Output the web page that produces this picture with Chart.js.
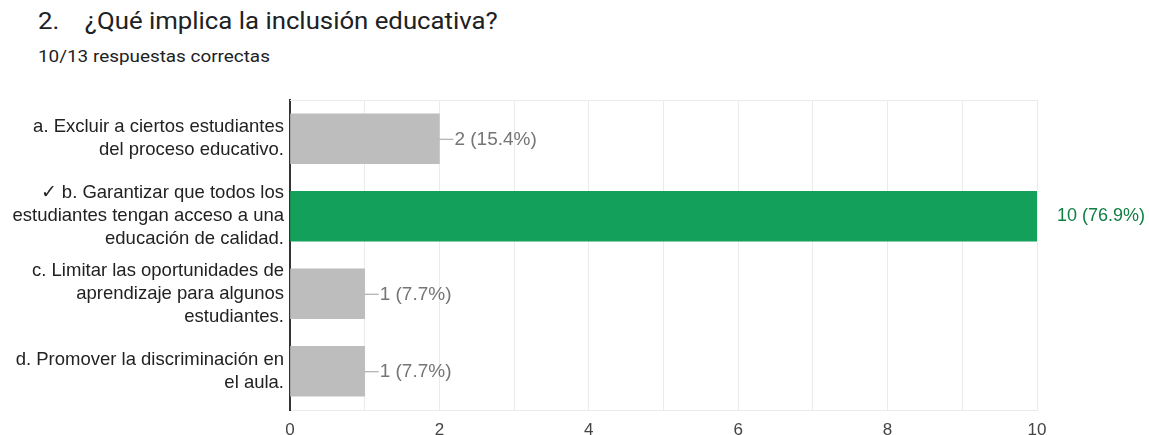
<!DOCTYPE html>
<html>
<head>
<meta charset="utf-8">
<script src="https://cdn.jsdelivr.net/npm/chart.js@4"></script>
<style>
  html, body { margin: 0; padding: 0; background: #fff; overflow: hidden; }
  body { width: 1149px; height: 435px; position: relative; font-family: Roboto, Arial, sans-serif; }
  #title { position: absolute; left: 38px; top: 8px; font-size: 23px; color: #202124; white-space: pre;
           transform: scaleX(1.12); transform-origin: left top; }
  #subtitle { position: absolute; left: 38px; top: 47px; font-size: 16px; color: #202124;
              transform: scaleX(1.18); transform-origin: left top; }
  #wrap { position: absolute; left: 0; top: 0; width: 1149px; height: 455px; }
</style>
</head>
<body>
<div id="title">2.    ¿Qué implica la inclusión educativa?</div>
<div id="subtitle">10/13 respuestas correctas</div>
<div id="wrap"><canvas id="chart"></canvas></div>
<script>
// answer options (already wrapped the way the form shows them)
const categories = [
    ['a. Excluir a ciertos estudiantes', 'del proceso educativo.'],
    ['✓ b. Garantizar que todos los', 'estudiantes tengan acceso a una', 'educación de calidad.'],
    ['c. Limitar las oportunidades de', 'aprendizaje para algunos', 'estudiantes.'],
    ['d. Promover la discriminación en', 'el aula.']
];
const responses = [2, 10, 1, 1];
const totalResponses = 13;
const correctOption = 1;
const xTicks = [0, 2, 4, 6, 8, 10];

const GREY = '#bdbdbd';
const GREEN = '#13a05a';
const LABEL_FONT = '"Liberation Sans", Arial, sans-serif';

// value labels at the end of each bar
const valueLabels = {
    id: 'valueLabels',
    afterDatasetsDraw(chart) {
        const ctx = chart.ctx;
        const meta = chart.getDatasetMeta(0);
        const area = chart.chartArea;
        ctx.save();
        ctx.textBaseline = 'middle';
        meta.data.forEach((bar, i) => {
            const pct = (responses[i] / totalResponses * 100).toFixed(1);
            const txt = responses[i] + ' (' + pct + '%)';
            if (i === correctOption) {
                ctx.font = '18px ' + LABEL_FONT;
                ctx.fillStyle = '#0f8043';
                ctx.fillText(txt, area.right + 20, bar.y);
            } else {
                ctx.font = '19px ' + LABEL_FONT;
                ctx.strokeStyle = '#9e9e9e';
                ctx.lineWidth = 1;
                ctx.beginPath();
                ctx.moveTo(bar.x, bar.y + 0.5);
                ctx.lineTo(bar.x + 14, bar.y + 0.5);
                ctx.stroke();
                ctx.fillStyle = '#757575';
                ctx.fillText(txt, bar.x + 15, bar.y + 1);
            }
        });
        ctx.restore();
    }
};

// light frame line across the top of the plot
const topLine = {
    id: 'topLine',
    beforeDatasetsDraw(chart) {
        const ctx = chart.ctx;
        const a = chart.chartArea;
        ctx.save();
        ctx.strokeStyle = '#ebebeb';
        ctx.lineWidth = 1;
        ctx.beginPath();
        ctx.moveTo(a.left, a.top + 0.5);
        ctx.lineTo(a.right, a.top + 0.5);
        ctx.stroke();
        ctx.restore();
    }
};

const ctx = document.getElementById('chart').getContext('2d');
const chart = new Chart(ctx, {
    type: 'bar',
    data: {
        labels: categories,
        datasets: [{
            data: responses,
            backgroundColor: responses.map((v, i) => i === correctOption ? GREEN : GREY),
            borderWidth: 0,
            barThickness: 50
        }]
    },
    options: {
        indexAxis: 'y',
        responsive: true,
        maintainAspectRatio: false,
        animation: false,
        layout: { padding: { top: 100, right: 112, left: 0, bottom: 0 } },
        plugins: {
            legend: { display: false },
            tooltip: { enabled: false }
        },
        scales: {
            x: {
                min: 0,
                max: 10,
                afterFit(scale) { scale.height = 45; },
                afterBuildTicks(scale) {
                    scale.ticks = [];
                    for (let v = 0; v <= 10; v++) scale.ticks.push({ value: v });
                },
                ticks: {
                    color: '#444',
                    padding: 10,
                    font: { family: LABEL_FONT, size: 17 },
                    callback: v => xTicks.includes(v) ? String(v) : ''
                },
                grid: { color: '#ebebeb', drawTicks: false },
                border: { display: true, color: '#ebebeb' }
            },
            y: {
                afterFit(scale) { scale.width = 290; },
                ticks: {
                    color: '#222',
                    padding: 6,
                    font: { family: LABEL_FONT, size: 18.5, lineHeight: 1.25 }
                },
                grid: { display: false, drawTicks: false },
                border: { display: true, color: '#333', width: 2 }
            }
        }
    },
    plugins: [valueLabels, topLine]
});
</script>
</body>
</html>
